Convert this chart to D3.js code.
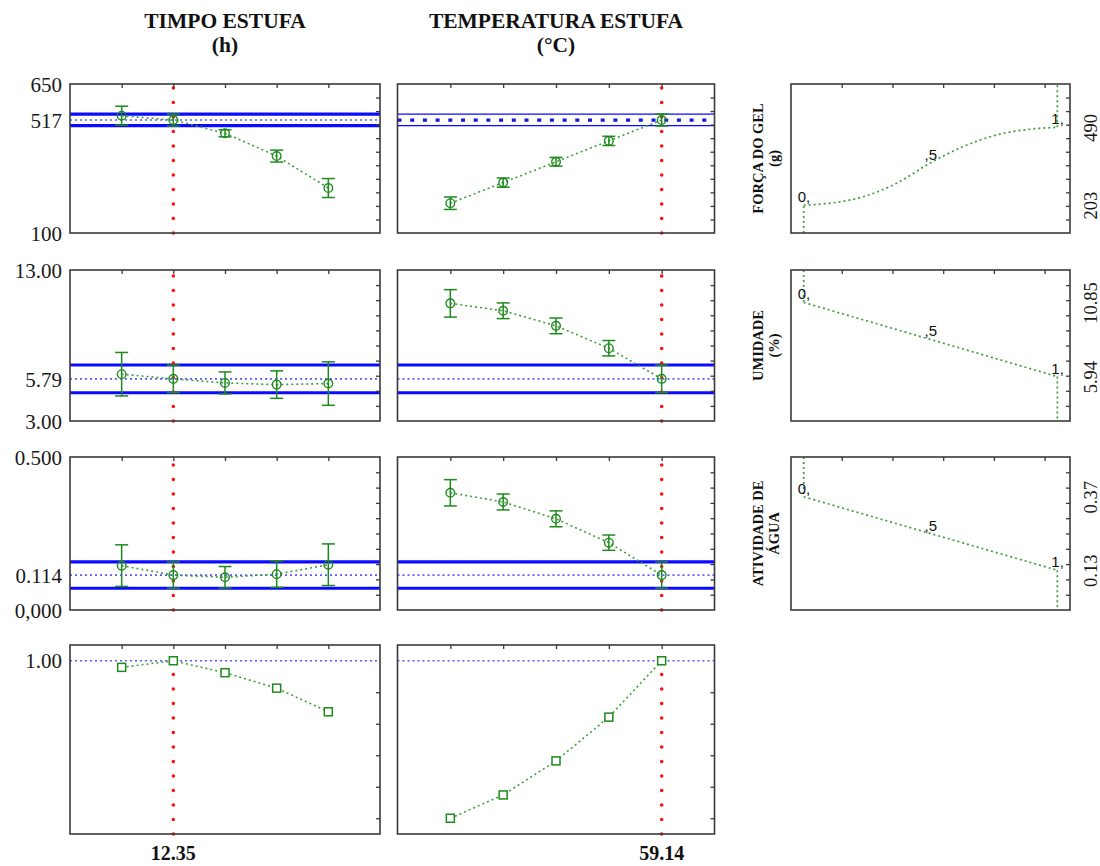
<!DOCTYPE html>
<html>
<head>
<meta charset="utf-8">
<script src="https://cdn.jsdelivr.net/npm/d3@7"></script>
<style>
  body { margin: 0; background: #fff; }
  svg { display: block; }
</style>
</head>
<body>
<svg id="chart" width="1100" height="866"></svg>
<script>
// ---- factor levels and optimum ----
const timeLevels = [8.70, 12.35, 16.00, 19.65, 23.30];
const tempLevels = [40.86, 45.43, 50.00, 54.57, 59.14];
const factorTitles = [["TIMPO ESTUFA", "(h)"], ["TEMPERATURA ESTUFA", "(°C)"]];
const optimum = [12.35, 59.14];
const optimumLabels = ["12.35", "59.14"];

// ---- Força do gel (g) ----
const forceByTime = [533, 517, 468, 384, 266];
const forceByTimeErr = [35, 22, 13, 22, 35];
const forceByTemp = [210, 286, 363, 440, 517];
const forceByTempErr = [23, 17, 16, 17, 22];
const forcePred = 517;
const forceCI = [496, 539];
const forceDomain = [100, 650];
const forceTicks = [100, 517, 650];
const forceTickLabels = ["100", "517", "650"];
const forceMinorTicks = [150, 200, 250, 300, 350, 400, 450, 500, 550, 600];
const forceLimits = [203, 490];
const forceLimitLabels = ["203", "490"];
const forceCurveD = [0, 0.104, 0.235, 0.367, 0.5, 0.629, 0.761, 0.892, 1];
const forceCurveV = [203, 210, 234, 284, 359, 419, 462, 483, 490];

// ---- Umidade (%) ----
const moistByTime = [6.10, 5.79, 5.52, 5.41, 5.48];
const moistByTimeErr = [1.44, 0.91, 0.73, 0.91, 1.44];
const moistByTemp = [10.79, 10.30, 9.30, 7.82, 5.79];
const moistByTempErr = [0.91, 0.52, 0.52, 0.51, 0.91];
const moistPred = 5.79;
const moistCI = [4.87, 6.71];
const moistDomain = [3, 13];
const moistTicks = [3, 5.79, 13];
const moistTickLabels = ["3.00", "5.79", "13.00"];
const moistMinorTicks = [4, 5, 6, 7, 8, 9, 10, 11, 12];
const moistLimits = [5.94, 10.85];
const moistLimitLabels = ["5.94", "10.85"];
const moistCurveD = [0, 0.5, 1];
const moistCurveV = [10.85, 8.40, 5.94];

// ---- Atividade de água ----
const awByTime = [0.145, 0.114, 0.107, 0.117, 0.148];
const awByTimeErr = [0.068, 0.043, 0.035, 0.043, 0.068];
const awByTemp = [0.383, 0.353, 0.298, 0.220, 0.114];
const awByTempErr = [0.043, 0.026, 0.026, 0.025, 0.043];
const awPred = 0.114;
const awCI = [0.071, 0.157];
const awDomain = [0, 0.5];
const awTicks = [0, 0.114, 0.5];
const awTickLabels = ["0,000", "0.114", "0.500"];
const awMinorTicks = [0.05, 0.10, 0.15, 0.20, 0.25, 0.30, 0.35, 0.40, 0.45];
const awLimits = [0.13, 0.37];
const awLimitLabels = ["0.13", "0.37"];
const awCurveD = [0, 0.5, 1];
const awCurveV = [0.37, 0.25, 0.13];

// ---- overall desirability ----
const desirByTime = [0.979, 1.00, 0.962, 0.913, 0.838];
const desirByTemp = [0.500, 0.574, 0.682, 0.821, 1.00];
const desirDomain = [0.45, 1.05];
const desirPred = 1.0;
const desirTicks = [1.0];
const desirTickLabels = ["1.00"];
const desirMinorTicks = [0.5, 0.6, 0.7, 0.8, 0.9];

// ---- desirability-function axis ----
const dDomain = [-0.05, 1.05];
const dTopTicks = [0.15, 0.35, 0.55, 0.75, 0.95];
const dMarks = [0, 0.5, 1];
const dMarkLabels = ["0,", ",5", "1,"];

const responses = [
  { title: ["FORÇA DO GEL", "(g)"], byFactor: [forceByTime, forceByTemp], err: [forceByTimeErr, forceByTempErr],
    pred: forcePred, ci: forceCI, domain: forceDomain, ticks: forceTicks, tickLabels: forceTickLabels,
    minor: forceMinorTicks, limits: forceLimits, limitLabels: forceLimitLabels, curveD: forceCurveD, curveV: forceCurveV },
  { title: ["UMIDADE", "(%)"], byFactor: [moistByTime, moistByTemp], err: [moistByTimeErr, moistByTempErr],
    pred: moistPred, ci: moistCI, domain: moistDomain, ticks: moistTicks, tickLabels: moistTickLabels,
    minor: moistMinorTicks, limits: moistLimits, limitLabels: moistLimitLabels, curveD: moistCurveD, curveV: moistCurveV },
  { title: ["ATIVIDADE DE", "ÁGUA"], byFactor: [awByTime, awByTemp], err: [awByTimeErr, awByTempErr],
    pred: awPred, ci: awCI, domain: awDomain, ticks: awTicks, tickLabels: awTickLabels,
    minor: awMinorTicks, limits: awLimits, limitLabels: awLimitLabels, curveD: awCurveD, curveV: awCurveV }
];

// ---- layout ----
const colX = [[70, 380], [397.5, 714.5]];
const dColX = [791, 1070];
const rowY = [[84, 233], [270, 421], [457, 610], [645, 834]];

const AXIS = "#3a3a3a";
const BLUE = "#0a0aff";
const BLUE_DOT = "#5b5bff";
const GREEN = "#1e8a1e";
const GREEN_LINE = "#3c9f3c";
const RED = "#ff1010";
const SERIF = "'Liberation Serif', 'Times New Roman', serif";
const SANS = "'Liberation Sans', Arial, sans-serif";

const svg = d3.select("#chart");

const levelsByFactor = [timeLevels, tempLevels];
const xScales = levelsByFactor.map((lv, c) => {
  const step = lv[1] - lv[0];
  return d3.scaleLinear().domain([lv[0] - step, lv[lv.length - 1] + step]).range(colX[c]);
});
const xD = d3.scaleLinear().domain(dDomain).range(dColX);

// factor headers
factorTitles.forEach((t, c) => {
  const cx = (colX[c][0] + colX[c][1]) / 2;
  const txt = svg.append("text").attr("x", cx).attr("y", 28)
    .attr("text-anchor", "middle").attr("font-family", SERIF)
    .attr("font-weight", "bold").attr("font-size", 21.5).attr("fill", "#111");
  txt.append("tspan").attr("x", cx).attr("y", 28).text(t[0]);
  txt.append("tspan").attr("x", cx).attr("y", 52).text(t[1]);
});

function frame(g, x0, x1, y0, y1) {
  g.append("rect").attr("x", x0).attr("y", y0).attr("width", x1 - x0).attr("height", y1 - y0)
    .attr("fill", "none").attr("stroke", AXIS).attr("stroke-width", 1.6);
}

function topTicks(g, x, vals, y0) {
  g.append("g").attr("transform", `translate(0,${y0})`)
    .call(d3.axisTop(x).tickValues(vals).tickSize(-4).tickFormat(""))
    .call(a => a.select(".domain").remove())
    .selectAll("line").attr("stroke", AXIS).attr("stroke-width", 1.3);
}

function rightTicks(g, y, vals, x1) {
  g.append("g").attr("transform", `translate(${x1},0)`)
    .call(d3.axisRight(y).tickValues(vals).tickSize(-4).tickFormat(""))
    .call(a => a.select(".domain").remove())
    .selectAll("line").attr("stroke", AXIS).attr("stroke-width", 1.3);
}

function leftLabels(g, y, vals, labels, x0) {
  g.append("g").attr("transform", `translate(${x0},0)`)
    .call(d3.axisLeft(y).tickValues(vals).tickSize(0).tickPadding(8).tickFormat((d, i) => labels[i]))
    .call(a => a.select(".domain").remove())
    .selectAll("text").attr("font-family", SERIF).attr("font-size", 21).attr("fill", "#1a1a1a")
    .attr("dy", "0.34em");
}

function hline(g, x0, x1, yv, stroke, width, dash) {
  const l = g.append("line").attr("x1", x0).attr("x2", x1).attr("y1", yv).attr("y2", yv)
    .attr("stroke", stroke).attr("stroke-width", width);
  if (dash) l.attr("stroke-dasharray", dash);
  return l;
}

function redDots(g, xv, yBottom, yTop) {
  g.append("line").attr("x1", xv).attr("x2", xv).attr("y1", yBottom).attr("y2", yTop)
    .attr("stroke", RED).attr("stroke-width", 3.6).attr("stroke-linecap", "round")
    .attr("stroke-dasharray", "0 14.5");
}

// ---- response rows ----
responses.forEach((r, ri) => {
  const [yTop, yBot] = rowY[ri];
  const y = d3.scaleLinear().domain(r.domain).range([yBot, yTop]);

  [0, 1].forEach(c => {
    const g = svg.append("g");
    const x = xScales[c];
    const [x0, x1] = colX[c];
    const levels = levelsByFactor[c];
    const vals = r.byFactor[c];
    const errs = r.err[c];

    // confidence band around the predicted value
    const thinBand = (ri === 0 && c === 1);
    r.ci.forEach(v => hline(g, x0, x1, y(v), BLUE, thinBand ? 1.2 : 3.2));
    if (thinBand) hline(g, x0, x1, y(r.pred), "#1414e6", 3.2, "4 8.7");
    else hline(g, x0, x1, y(r.pred), BLUE_DOT, 1.6, "2 3");

    // current factor setting
    redDots(g, x(optimum[c]), yBot, yTop);

    // predicted response profile
    const pts = levels.map((lv, i) => ({ x: lv, v: vals[i], e: errs[i] }));
    g.append("path").datum(pts)
      .attr("d", d3.line().x(d => x(d.x)).y(d => y(d.v)))
      .attr("fill", "none").attr("stroke", GREEN_LINE).attr("stroke-width", 1.6)
      .attr("stroke-dasharray", "2 3");

    const eb = g.selectAll(".eb").data(pts).enter().append("g");
    eb.append("line").attr("x1", d => x(d.x)).attr("x2", d => x(d.x))
      .attr("y1", d => y(d.v - d.e)).attr("y2", d => y(d.v + d.e))
      .attr("stroke", GREEN).attr("stroke-width", 1.5);
    [-1, 1].forEach(s => {
      eb.append("line").attr("x1", d => x(d.x) - 6.5).attr("x2", d => x(d.x) + 6.5)
        .attr("y1", d => y(d.v + s * d.e)).attr("y2", d => y(d.v + s * d.e))
        .attr("stroke", GREEN).attr("stroke-width", 1.5);
    });
    eb.append("circle").attr("cx", d => x(d.x)).attr("cy", d => y(d.v)).attr("r", 4.3)
      .attr("fill", "none").attr("stroke", GREEN).attr("stroke-width", 1.4);

    frame(g, x0, x1, yTop, yBot);
    topTicks(g, x, levels, yTop);
    rightTicks(g, y, r.minor, x1);
    if (c === 0) leftLabels(g, y, r.ticks, r.tickLabels, x0);
  });

  // desirability function panel
  const g = svg.append("g");
  const [dx0, dx1] = dColX;
  const cy = (yTop + yBot) / 2;
  const pts = r.curveD.map((d, i) => ({ d, v: r.curveV[i] }));
  const dLine = d3.line().x(p => xD(p.d)).y(p => y(p.v));
  const curveStyle = p => p.attr("fill", "none").attr("stroke", GREEN_LINE)
    .attr("stroke-width", 1.7).attr("stroke-dasharray", "2 3");

  g.append("path").datum(pts).attr("d", dLine.curve(d3.curveMonotoneX)).call(curveStyle);
  const first = pts[0], last = pts[pts.length - 1];
  const lowEnd = r.domain[0], highEnd = r.domain[1];
  const edgeAtZero = first.v < last.v ? lowEnd : highEnd;
  const edgeAtOne = first.v < last.v ? highEnd : lowEnd;
  g.append("path").datum([{ d: 0, v: edgeAtZero }, first])
    .attr("d", d3.line().x(p => xD(p.d)).y(p => y(p.v))).call(curveStyle);
  g.append("path").datum([last, { d: 1, v: edgeAtOne }])
    .attr("d", d3.line().x(p => xD(p.d)).y(p => y(p.v))).call(curveStyle);

  dMarks.forEach((m, i) => {
    const p = pts.find(q => q.d === m);
    g.append("text").attr("x", xD(m) - 6).attr("y", y(p.v) - 3)
      .attr("font-family", SANS).attr("font-size", 15).attr("fill", "#111")
      .text(dMarkLabels[i]);
  });

  frame(g, dx0, dx1, yTop, yBot);
  topTicks(g, xD, dTopTicks, yTop);
  rightTicks(g, y, r.minor, dx1);

  // response limits, rotated on the right side
  g.append("g").attr("transform", `translate(${dx1},0)`)
    .call(d3.axisRight(y).tickValues(r.limits).tickSize(0).tickFormat((d, i) => r.limitLabels[i]))
    .call(a => a.select(".domain").remove())
    .selectAll("text")
    .attr("x", 0).attr("dy", 0)
    .attr("text-anchor", "middle")
    .attr("transform", "translate(27,0) rotate(-90)")
    .attr("font-family", SERIF).attr("font-size", 18.5).attr("fill", "#1a1a1a");

  // response title
  const t = g.append("text").attr("transform", `translate(763,${cy}) rotate(-90)`)
    .attr("text-anchor", "middle").attr("font-family", SERIF).attr("font-weight", "bold")
    .attr("font-size", 14.5).attr("fill", "#111");
  t.append("tspan").attr("x", 0).attr("y", 0).text(r.title[0]);
  t.append("tspan").attr("x", 0).attr("y", 15.5).text(r.title[1]);
});

// ---- overall desirability row ----
{
  const [yTop, yBot] = rowY[3];
  const y = d3.scaleLinear().domain(desirDomain).range([yBot, yTop]);
  const desirByFactor = [desirByTime, desirByTemp];
  [0, 1].forEach(c => {
    const g = svg.append("g");
    const x = xScales[c];
    const [x0, x1] = colX[c];
    const levels = levelsByFactor[c];
    const pts = levels.map((lv, i) => ({ x: lv, v: desirByFactor[c][i] }));

    hline(g, x0, x1, y(desirPred), BLUE_DOT, 1.6, "2 3");
    redDots(g, x(optimum[c]), yBot, y(desirPred));

    g.append("path").datum(pts)
      .attr("d", d3.line().x(d => x(d.x)).y(d => y(d.v)))
      .attr("fill", "none").attr("stroke", GREEN_LINE).attr("stroke-width", 1.6)
      .attr("stroke-dasharray", "2 3");
    g.selectAll(".sq").data(pts).enter().append("rect")
      .attr("x", d => x(d.x) - 4).attr("y", d => y(d.v) - 4)
      .attr("width", 8).attr("height", 8)
      .attr("fill", "#fff").attr("stroke", GREEN).attr("stroke-width", 1.5);

    frame(g, x0, x1, yTop, yBot);
    topTicks(g, x, levels, yTop);
    rightTicks(g, y, desirMinorTicks, x1);
    if (c === 0) leftLabels(g, y, desirTicks, desirTickLabels, x0);

    // optimum factor setting below the panel
    g.append("text").attr("x", x(optimum[c])).attr("y", 860)
      .attr("text-anchor", "middle").attr("font-family", SERIF)
      .attr("font-weight", "bold").attr("font-size", 20).attr("fill", "#111")
      .text(optimumLabels[c]);
  });
}
</script>
</body>
</html>
